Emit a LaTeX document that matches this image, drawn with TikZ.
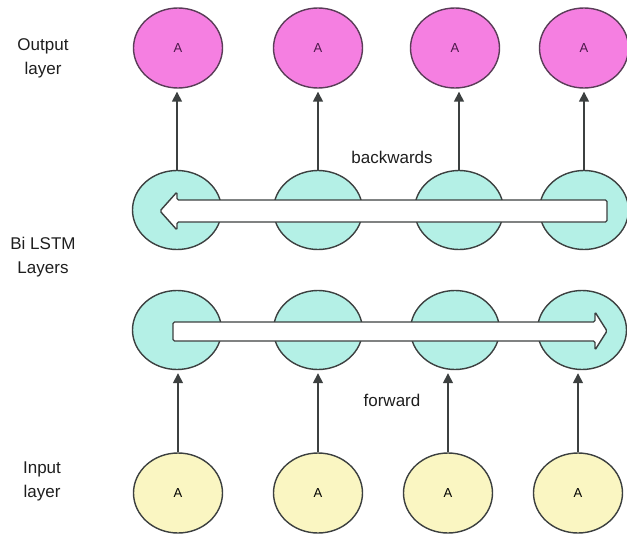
\documentclass[tikz,border=0pt]{standalone}
\usepackage{fontspec}
\setmainfont{Liberation Sans}
\usetikzlibrary{shapes.geometric,arrows.meta}
\definecolor{outpink}{HTML}{F57FE1}
\definecolor{outtext}{HTML}{4A1848}
\definecolor{outline}{HTML}{5A3D58}
\definecolor{lstmcyan}{HTML}{B4F0E6}
\definecolor{inyellow}{HTML}{FAF6C2}
\definecolor{nodeline}{HTML}{3C4040}
\definecolor{labelgray}{HTML}{1E1E1E}

\begin{document}
\begin{tikzpicture}[x=1pt, y=-1pt,
  cell/.style = {draw=nodeline, ellipse, line width=1.4pt, minimum width=89pt, minimum height=80pt, font=\fontsize{13}{15}\selectfont},
  outcell/.style = {cell, draw=outline, fill=outpink, text=outtext},
  lstmcell/.style = {cell, fill=lstmcyan, minimum height=79pt},
  incell/.style = {cell, fill=inyellow},
  side/.style = {align=center, text=labelgray, font=\fontsize{17}{24}\selectfont},
  flow/.style = {draw=nodeline, fill=white, line width=1.4pt, rounded corners=1.5pt},
  feed/.style = {draw=nodeline, line width=1.5pt, shorten >=3pt, -{Triangle[length=10pt,width=10pt]}}]
\useasboundingbox (0,0) rectangle (627,538);

% output layer
\node[outcell] (o1) at (178,48) {A};
\node[outcell] (o2) at (318,48) {A};
\node[outcell] (o3) at (455,48) {A};
\node[outcell] (o4) at (584,48) {A};

% bi lstm layers
\node[lstmcell] (b1) at (177,210) {};
\node[lstmcell] (b2) at (318,210) {};
\node[lstmcell] (b3) at (459,210) {};
\node[lstmcell] (b4) at (584,210) {};
\node[lstmcell] (f1) at (177,330) {};
\node[lstmcell] (f2) at (318,330) {};
\node[lstmcell] (f3) at (455,330) {};
\node[lstmcell] (f4) at (582,330) {};

% input layer
\node[incell] (i1) at (178,493) {A};
\node[incell] (i2) at (318,493) {A};
\node[incell] (i3) at (448,493) {A};
\node[incell] (i4) at (578,493) {A};

% side labels
\node[side] (outlab) at (43,58) {Output\\layer};
\node[side] (lstmlab) at (43,257) {Bi LSTM\\Layers};
\node[side] (inlab) at (42,481) {Input\\layer};
\node[side] (back) at (392,157) {backwards};
\node[side] (fwd) at (392,400) {forward};

% hollow arrows through the lstm cells
\draw[flow] (607,200) -- (177,200) -- (177,192) -- (160,211) -- (177,230) -- (177,222) -- (607,222) -- cycle;
\draw[flow] (173,322) -- (595,322) -- (595,312) -- (607,331) -- (595,350) -- (595,341) -- (173,341) -- cycle;

% input -> forward
\draw[feed] (i1.north) -- (i1.north |- f1.south);
\draw[feed] (i2.north) -- (i2.north |- f2.south);
\draw[feed] (i3.north) -- (i3.north |- f3.south);
\draw[feed] (i4.north) -- (i4.north |- f4.south);

% backwards -> output
\draw[feed] (b1.north) -- (b1.north |- o1.south);
\draw[feed] (b2.north) -- (b2.north |- o2.south);
\draw[feed] (b3.north) -- (b3.north |- o3.south);
\draw[feed] (b4.north) -- (b4.north |- o4.south);
\end{tikzpicture}
\end{document}
